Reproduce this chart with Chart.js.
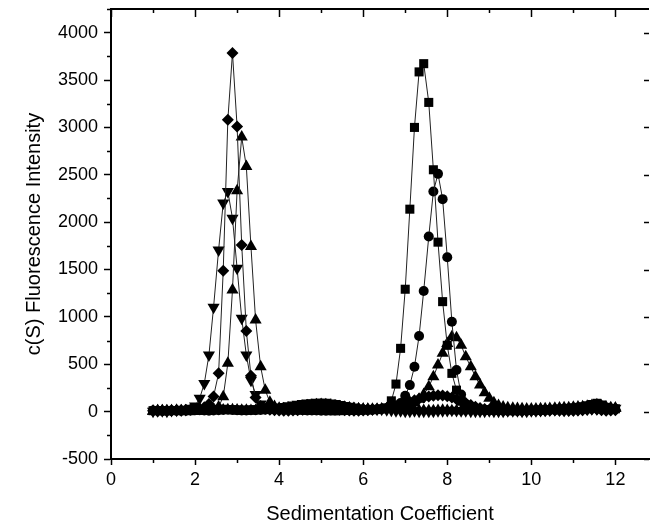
<!DOCTYPE html>
<html>
<head>
<meta charset="utf-8">
<script src="https://cdn.jsdelivr.net/npm/chart.js@4/dist/chart.umd.min.js"></script>
<style>
    html, body { margin: 0; padding: 0; background: #fff; }
    #wrap { width: 656px; height: 527px; }
</style>
</head>
<body>
<div id="wrap"><canvas id="sedChart" width="656" height="527"></canvas></div>
<script>
// sedimentation coefficient grid (S)
const sValues = [
    1.00, 1.11, 1.22, 1.33, 1.44, 1.56, 1.67, 1.78, 1.89, 2.00,
    2.11, 2.22, 2.33, 2.44, 2.56, 2.67, 2.78, 2.89, 3.00, 3.11,
    3.22, 3.33, 3.44, 3.56, 3.67, 3.78, 3.89, 4.00, 4.11, 4.22,
    4.33, 4.44, 4.56, 4.67, 4.78, 4.89, 5.00, 5.11, 5.22, 5.33,
    5.44, 5.56, 5.67, 5.78, 5.89, 6.00, 6.11, 6.22, 6.33, 6.44,
    6.56, 6.67, 6.78, 6.89, 7.00, 7.11, 7.22, 7.33, 7.44, 7.56,
    7.67, 7.78, 7.89, 8.00, 8.11, 8.22, 8.33, 8.44, 8.56, 8.67,
    8.78, 8.89, 9.00, 9.11, 9.22, 9.33, 9.44, 9.56, 9.67, 9.78,
    9.89, 10.00, 10.11, 10.22, 10.33, 10.44, 10.56, 10.67, 10.78, 10.89,
    11.00, 11.11, 11.22, 11.33, 11.44, 11.56, 11.67, 11.78, 11.89, 12.00
];

const diamondValues = [
    10, 5, 8, 12, 10, 15, 12, 18, 20, 25,
    30, 45, 80, 160, 404, 1488, 3081, 3786, 3011, 1760,
    851, 378, 150, 60, 30, 20, 15, 12, 10, 10,
    12, 15, 20, 25, 30, 35, 38, 35, 30, 25,
    20, 15, 12, 10, 10, 12, 15, 20, 25, 30,
    38, 48, 60, 75, 90, 105, 120, 135, 150, 160,
    168, 172, 170, 162, 150, 132, 112, 90, 70, 52,
    38, 28, 20, 15, 12, 10, 10, 12, 10, 8,
    10, 12, 10, 8, 10, 12, 15, 12, 10, 8,
    10, 12, 15, 20, 25, 22, 15, 10, 12, 15
];

const upTriLeftValues = [
    5, 10, 8, 5, 10, 12, 8, 10, 12, 15,
    15, 18, 20, 25, 50, 156, 510, 1284, 2331, 2898,
    2588, 1742, 967, 474, 227, 100, 55, 35, 30, 35,
    40, 48, 55, 62, 68, 72, 75, 72, 68, 60,
    52, 45, 38, 32, 28, 25, 22, 20, 20, 22,
    25, 25, 22, 20, 18, 15, 15, 12, 12, 10,
    10, 12, 15, 12, 10, 10, 8, 10, 12, 10,
    8, 10, 10, 12, 10, 8, 10, 12, 10, 10,
    12, 10, 8, 10, 12, 15, 12, 10, 12, 15,
    18, 20, 22, 25, 28, 30, 28, 25, 30, 35
];

const downTriValues = [
    5, 8, 10, 5, 12, 15, 18, 22, 35, 60,
    140, 298, 597, 1101, 1707, 2201, 2323, 2042, 1514, 985,
    597, 330, 180, 80, 45, 35, 40, 48, 55, 62,
    70, 78, 85, 90, 95, 98, 100, 98, 92, 85,
    76, 66, 56, 48, 40, 34, 30, 28, 26, 25,
    20, 15, 10, 8, 5, 5, 8, 5, 5, 3,
    5, 8, 10, 12, 15, 12, 10, 8, 5, 5,
    3, 5, 8, 5, 3, 5, 8, 10, 8, 5,
    5, 8, 10, 12, 15, 18, 20, 18, 15, 18,
    20, 22, 25, 28, 30, 30, 28, 25, 30, 35
];

const squareValues = [
    10, 12, 10, 8, 10, 12, 15, 12, 10, 12,
    15, 18, 20, 22, 25, 25, 22, 20, 18, 15,
    15, 18, 20, 22, 25, 28, 30, 30, 28, 25,
    22, 20, 18, 15, 15, 15, 12, 12, 10, 10,
    10, 12, 12, 15, 15, 18, 18, 20, 22, 28,
    40, 114, 291, 668, 1292, 2137, 3000, 3586, 3673, 3264,
    2553, 1789, 1161, 700, 404, 227, 110, 60, 35, 25,
    20, 18, 15, 15, 12, 12, 10, 10, 10, 12,
    12, 15, 15, 18, 20, 22, 25, 28, 30, 35,
    40, 45, 52, 62, 75, 88, 70, 45, 35, 30
];

const circleValues = [
    12, 10, 8, 10, 12, 10, 8, 10, 12, 15,
    15, 12, 10, 12, 15, 18, 20, 18, 15, 12,
    12, 15, 15, 18, 20, 22, 25, 25, 22, 20,
    18, 15, 15, 12, 12, 12, 10, 10, 12, 12,
    15, 15, 18, 18, 20, 20, 22, 22, 25, 28,
    32, 38, 50, 90, 167, 280, 474, 798, 1274, 1848,
    2323, 2510, 2243, 1630, 949, 440, 180, 80, 45, 30,
    25, 20, 18, 15, 15, 12, 12, 12, 10, 10,
    10, 12, 12, 15, 15, 18, 18, 20, 22, 22,
    25, 28, 30, 32, 35, 38, 35, 32, 30, 28
];

const upTriRightValues = [
    5, 8, 10, 8, 10, 12, 10, 8, 10, 12,
    12, 10, 12, 15, 15, 18, 20, 20, 18, 15,
    15, 12, 12, 15, 18, 20, 22, 25, 28, 30,
    35, 40, 45, 50, 55, 58, 60, 58, 55, 50,
    45, 40, 35, 30, 28, 25, 25, 25, 25, 28,
    30, 32, 35, 38, 42, 60, 90, 130, 180, 262,
    368, 491, 615, 720, 791, 780, 702, 579, 474, 368,
    280, 200, 140, 95, 65, 48, 40, 35, 32, 30,
    28, 28, 28, 30, 30, 32, 35, 38, 40, 42,
    45, 48, 52, 58, 65, 72, 60, 48, 40, 35
];

// labelled ticks
const xTickValues = [0, 2, 4, 6, 8, 10, 12];
const yTickValues = [-500, 0, 500, 1000, 1500, 2000, 2500, 3000, 3500, 4000];

const xTitle = 'Sedimentation Coefficient';
const yTitle = 'c(S) Fluorescence Intensity';

const toPoints = (values) => values.map((v, i) => ({x: sValues[i], y: v}));

const makeSeries = (label, values, style, radius, rotation) => ({
    label: label,
    data: toPoints(values),
    borderColor: '#222',
    borderWidth: 1,
    backgroundColor: '#000',
    pointStyle: style,
    pointRadius: radius,
    pointRotation: rotation || 0,
    pointBackgroundColor: '#000',
    pointBorderColor: '#000',
    pointBorderWidth: 0,
    tension: 0
});

// mirrored top/right axis and the short minor ticks
const frameTicks = {
    id: 'frameTicks',
    afterDraw(chart) {
        const {ctx, chartArea: a, scales: {x, y}} = chart;
        const seg = (x1, y1, x2, y2) => {
            ctx.beginPath();
            ctx.moveTo(x1, y1);
            ctx.lineTo(x2, y2);
            ctx.stroke();
        };
        ctx.save();
        ctx.strokeStyle = '#000';
        ctx.lineWidth = 2;
        seg(a.left - 1, a.top, a.right, a.top);
        ctx.lineWidth = 1.5;
        for (let v = 0; v <= x.max; v += 1) {
            const px = Math.round(x.getPixelForValue(v)) + 0.5;
            const major = v % 2 === 0;
            seg(px, a.top, px, a.top + (major ? 8 : 4));
            if (!major) seg(px, a.bottom, px, a.bottom + 4);
        }
        for (let v = -500; v <= y.max; v += 250) {
            const py = Math.round(y.getPixelForValue(v)) + 0.5;
            const major = v % 500 === 0;
            if (major) seg(a.right - 5, py, a.right, py);
            else seg(a.left - 4, py, a.left, py);
        }
        ctx.restore();
    }
};

const tickFont = {family: 'Liberation Sans, Arial, sans-serif', size: 18};
const titleFont = {family: 'Liberation Sans, Arial, sans-serif', size: 20};

new Chart(document.getElementById('sedChart').getContext('2d'), {
    type: 'line',
    data: {
        datasets: [
            makeSeries('diamond', diamondValues, 'rectRot', 6),
            makeSeries('up triangle A', upTriLeftValues, 'triangle', 7),
            makeSeries('down triangle', downTriValues, 'triangle', 7, 180),
            makeSeries('square', squareValues, 'rect', 6.4),
            makeSeries('circle', circleValues, 'circle', 5),
            makeSeries('up triangle B', upTriRightValues, 'triangle', 7)
        ]
    },
    options: {
        responsive: false,
        animation: false,
        devicePixelRatio: 1,
        layout: {padding: {top: 9, right: 0, bottom: 0, left: 0}},
        plugins: {
            legend: {display: false},
            tooltip: {enabled: false}
        },
        scales: {
            x: {
                type: 'linear',
                min: 0,
                max: 12.8,
                afterBuildTicks: (scale) => {
                    scale.ticks = xTickValues.map(v => ({value: v}));
                },
                ticks: {
                    color: '#000',
                    font: tickFont,
                    padding: 4,
                    maxRotation: 0,
                    autoSkip: false,
                    callback: (v) => String(v)
                },
                grid: {drawOnChartArea: false, tickLength: 6, tickColor: '#000', tickWidth: 1.5},
                border: {color: '#000', width: 2},
                title: {display: true, text: xTitle, color: '#000', font: titleFont, padding: {top: 0, bottom: 1}},
                afterFit: (scale) => {
                    scale.height = 68;
                    scale.paddingLeft = 0;
                    scale.paddingRight = 0;
                }
            },
            y: {
                min: -500,
                max: 4250,
                afterBuildTicks: (scale) => {
                    scale.ticks = yTickValues.map(v => ({value: v}));
                },
                ticks: {
                    color: '#000',
                    font: tickFont,
                    padding: 6,
                    autoSkip: false,
                    callback: (v) => String(v)
                },
                grid: {drawOnChartArea: false, tickLength: 7, tickColor: '#000', tickWidth: 1.5},
                border: {color: '#000', width: 2},
                title: {display: true, text: yTitle, color: '#000', font: titleFont, padding: {top: 22, bottom: 0}},
                afterFit: (scale) => {
                    scale.width = 111;
                    scale.paddingTop = 0;
                    scale.paddingBottom = 0;
                }
            }
        }
    },
    plugins: [frameTicks]
});
</script>
</body>
</html>
